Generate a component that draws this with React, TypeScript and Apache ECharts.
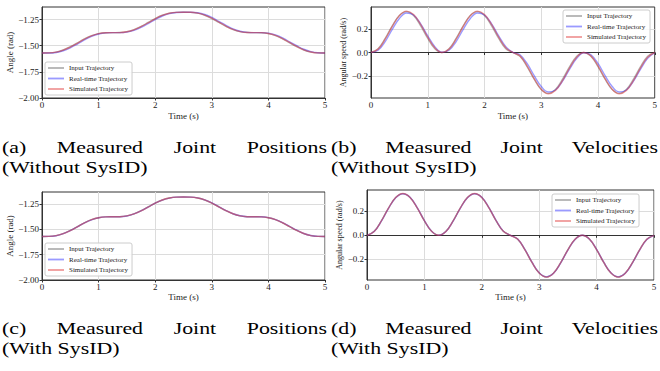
import React, { useEffect, useRef } from "react";
import * as echarts from "echarts";

const FONT = "'Liberation Serif', 'Times New Roman', serif";

const seriesNames = ["Input Trajectory", "Real-time Trajectory", "Simulated Trajectory"];
const xTicks = [0, 1, 2, 3, 4, 5];
const posTicks = [-2, -1.75, -1.5, -1.25];
const velTicks = [-0.2, 0, 0.2];

const timeS = [
  0, 0.125, 0.25, 0.375, 0.5, 0.625, 0.75, 0.875, 1.0, 1.125, 1.25,
  1.375, 1.5, 1.625, 1.75, 1.875, 2.0, 2.125, 2.25, 2.375, 2.5,
  2.625, 2.75, 2.875, 3.0, 3.125, 3.25, 3.375, 3.5, 3.625, 3.75,
  3.875, 4.0, 4.125, 4.25, 4.375, 4.5, 4.625, 4.75, 4.875, 5.0,
];

// Joint positions (rad)
const posInput = [
  -1.570, -1.569, -1.561, -1.541, -1.510, -1.473, -1.435, -1.404, -1.384, -1.376, -1.375,
  -1.374, -1.366, -1.346, -1.315, -1.278, -1.240, -1.209, -1.189, -1.181, -1.180,
  -1.181, -1.189, -1.209, -1.240, -1.278, -1.315, -1.346, -1.366, -1.374, -1.375,
  -1.376, -1.384, -1.404, -1.435, -1.473, -1.510, -1.541, -1.561, -1.569, -1.570,
];
const posRealNoId = [
  -1.570, -1.570, -1.565, -1.548, -1.520, -1.484, -1.445, -1.411, -1.388, -1.377, -1.375,
  -1.375, -1.370, -1.353, -1.325, -1.288, -1.250, -1.216, -1.193, -1.182, -1.180,
  -1.180, -1.185, -1.202, -1.230, -1.268, -1.305, -1.339, -1.362, -1.373, -1.375,
  -1.375, -1.380, -1.397, -1.425, -1.463, -1.500, -1.534, -1.557, -1.568, -1.570,
];
const posSimNoId = [
  -1.570, -1.569, -1.562, -1.543, -1.513, -1.477, -1.438, -1.406, -1.385, -1.376, -1.375,
  -1.375, -1.367, -1.348, -1.318, -1.282, -1.243, -1.211, -1.190, -1.181, -1.180,
  -1.180, -1.188, -1.207, -1.237, -1.274, -1.312, -1.344, -1.365, -1.374, -1.375,
  -1.375, -1.383, -1.402, -1.432, -1.469, -1.507, -1.539, -1.560, -1.569, -1.570,
];
const posRealId = [
  -1.570, -1.569, -1.562, -1.542, -1.512, -1.475, -1.436, -1.405, -1.385, -1.376, -1.375,
  -1.374, -1.367, -1.347, -1.317, -1.280, -1.241, -1.210, -1.190, -1.181, -1.180,
  -1.181, -1.188, -1.208, -1.238, -1.276, -1.313, -1.345, -1.365, -1.374, -1.375,
  -1.375, -1.383, -1.403, -1.433, -1.471, -1.508, -1.540, -1.560, -1.569, -1.570,
];
const posSimId = [
  -1.570, -1.569, -1.561, -1.542, -1.511, -1.474, -1.436, -1.404, -1.384, -1.376, -1.375,
  -1.374, -1.366, -1.347, -1.316, -1.279, -1.241, -1.209, -1.189, -1.181, -1.180,
  -1.181, -1.189, -1.208, -1.239, -1.277, -1.314, -1.345, -1.366, -1.374, -1.375,
  -1.376, -1.384, -1.403, -1.434, -1.472, -1.509, -1.540, -1.561, -1.569, -1.570,
];

// Joint velocities (rad/s)
const velInput = [
  0, 0.033, 0.121, 0.229, 0.317, 0.350, 0.317, 0.229, 0.121, 0.033, 0,
  0.033, 0.121, 0.229, 0.317, 0.350, 0.317, 0.229, 0.121, 0.033, 0,
  -0.033, -0.121, -0.229, -0.317, -0.350, -0.317, -0.229, -0.121, -0.033, 0,
  -0.033, -0.121, -0.229, -0.317, -0.350, -0.317, -0.229, -0.121, -0.033, 0,
];
const velRealNoId = [
  0, 0.019, 0.094, 0.198, 0.291, 0.338, 0.321, 0.246, 0.142, 0.050, 0.002,
  0.019, 0.094, 0.198, 0.291, 0.338, 0.321, 0.246, 0.142, 0.050, 0.002,
  -0.019, -0.094, -0.198, -0.291, -0.338, -0.321, -0.246, -0.142, -0.050, -0.002,
  -0.019, -0.094, -0.198, -0.291, -0.338, -0.321, -0.246, -0.142, -0.050, -0.002,
];
const velSimNoId = [
  0, 0.029, 0.114, 0.224, 0.316, 0.355, 0.326, 0.241, 0.131, 0.040, 0,
  0.029, 0.114, 0.224, 0.316, 0.355, 0.326, 0.241, 0.131, 0.040, 0,
  -0.029, -0.114, -0.224, -0.316, -0.355, -0.326, -0.241, -0.131, -0.040, 0,
  -0.029, -0.114, -0.224, -0.316, -0.355, -0.326, -0.241, -0.131, -0.040, 0,
];
const velRealId = [
  0, 0.031, 0.118, 0.226, 0.315, 0.349, 0.319, 0.232, 0.124, 0.035, 0,
  0.031, 0.118, 0.226, 0.315, 0.349, 0.319, 0.232, 0.124, 0.035, 0,
  -0.031, -0.118, -0.226, -0.315, -0.349, -0.319, -0.232, -0.124, -0.035, 0,
  -0.031, -0.118, -0.226, -0.315, -0.349, -0.319, -0.232, -0.124, -0.035, 0,
];
const velSimId = [
  0, 0.032, 0.120, 0.228, 0.317, 0.351, 0.318, 0.230, 0.122, 0.034, 0,
  0.032, 0.120, 0.228, 0.317, 0.351, 0.318, 0.230, 0.122, 0.034, 0,
  -0.032, -0.120, -0.228, -0.317, -0.351, -0.318, -0.230, -0.122, -0.034, 0,
  -0.032, -0.120, -0.228, -0.317, -0.351, -0.318, -0.230, -0.122, -0.034, 0,
];

const captionLines = [
  { words: ["(a)", "Measured", "Joint", "Positions"], second: "(Without SysID)" },
  { words: ["(b)", "Measured", "Joint", "Velocities"], second: "(Without SysID)" },
  { words: ["(c)", "Measured", "Joint", "Positions"], second: "(With SysID)" },
  { words: ["(d)", "Measured", "Joint", "Velocities"], second: "(With SysID)" },
];

const COLORS = ["rgba(0,0,0,0.3)", "rgba(30,30,255,0.45)", "rgba(225,70,70,0.55)"];

const minusFmt = (d: number) => (v: number) => v.toFixed(d).replace("-", "\u2212");

export default function App() {
  const ref = useRef<HTMLDivElement>(null);

  useEffect(() => {
    if (!ref.current) return;
    const chart = echarts.init(ref.current, null, { renderer: "svg" });

    const grids = [
      { left: 42, top: 7, width: 283, height: 91 },
      { left: 371, top: 7, width: 284, height: 91 },
      { left: 42, top: 192, width: 283, height: 88 },
      { left: 367, top: 190, width: 287, height: 90 },
    ];

    const yRanges = [
      { min: -2.0, max: -1.13, ticks: posTicks, dec: 2, name: "Angle (rad)", nameSize: 9, gap: 26 },
      { min: -0.39, max: 0.39, ticks: velTicks, dec: 1, name: "Angular speed (rad/s)", nameSize: 8, gap: 24 },
      { min: -2.0, max: -1.13, ticks: posTicks, dec: 2, name: "Angle (rad)", nameSize: 9, gap: 26 },
      { min: -0.375, max: 0.38, ticks: velTicks, dec: 1, name: "Angular speed (rad/s)", nameSize: 8, gap: 24 },
    ];

    const panelData = [
      [posInput, posRealNoId, posSimNoId],
      [velInput, velRealNoId, velSimNoId],
      [posInput, posRealId, posSimId],
      [velInput, velRealId, velSimId],
    ];

    const xGaps = [13, 13, 12, 12];

    const xAxis = grids.map((_, i) => ({
      type: "value",
      gridIndex: i,
      min: 0,
      max: 5,
      interval: 1,
      name: "Time (s)",
      nameLocation: "middle",
      nameGap: xGaps[i],
      nameTextStyle: { fontFamily: FONT, fontSize: 9, color: "#222" },
      axisLine: { show: true, lineStyle: { color: "#333", width: 1 } },
      axisTick: { show: true, length: 2.5, lineStyle: { color: "#333" }, customValues: xTicks },
      axisLabel: { fontFamily: FONT, fontSize: 9, color: "#222", margin: 2, customValues: xTicks },
      splitLine: { show: true, lineStyle: { color: "#dcdcdc", width: 1 } },
    }));

    const yAxis = yRanges.map((r, i) => ({
      type: "value",
      gridIndex: i,
      min: r.min,
      max: r.max,
      name: r.name,
      nameLocation: "middle",
      nameGap: r.gap,
      nameTextStyle: { fontFamily: FONT, fontSize: r.nameSize, color: "#222" },
      axisLine: { show: true, lineStyle: { color: "#333", width: 1 } },
      axisTick: { show: true, length: 2.5, lineStyle: { color: "#333" }, customValues: r.ticks },
      axisLabel: {
        fontFamily: FONT,
        fontSize: 9,
        color: "#222",
        margin: 3,
        customValues: r.ticks,
        formatter: minusFmt(r.dec),
      },
      splitLine: { show: true, lineStyle: { color: "#dcdcdc", width: 1 } },
    }));

    const series: any[] = [];
    panelData.forEach((arrs, gi) => {
      arrs.forEach((vals, si) => {
        series.push({
          type: "line",
          name: seriesNames[si],
          xAxisIndex: gi,
          yAxisIndex: gi,
          data: timeS.map((t, k) => [t, vals[k]]),
          showSymbol: false,
          smooth: 0.4,
          color: COLORS[si],
          lineStyle: { width: 1.4, color: COLORS[si] },
          z: 2 + si,
        });
      });
    });

    const legendBase = {
      data: seriesNames,
      orient: "vertical",
      icon: "rect",
      itemWidth: 16,
      itemHeight: 1.8,
      itemGap: 2.5,
      padding: [2, 4, 2, 3],
      backgroundColor: "rgba(255,255,255,0.85)",
      borderColor: "#cccccc",
      borderWidth: 1,
      borderRadius: 2,
      selectedMode: false,
      textStyle: { fontFamily: FONT, fontSize: 7, color: "#222", lineHeight: 8 },
    };
    const legend = [
      { ...legendBase, left: 45, top: 62 },
      { ...legendBase, left: 563, top: 10 },
      { ...legendBase, left: 45, top: 243 },
      { ...legendBase, left: 552, top: 194 },
    ];

    // Captions, justified like the LaTeX subcaptions (source image is stretched horizontally)
    const canvas = document.createElement("canvas");
    const ctx = canvas.getContext("2d")!;
    const capSize = 17.5;
    const stretch = 1.25;
    ctx.font = `${capSize}px 'Liberation Serif'`;
    const capBoxes = [
      { x0: 2, x1: 327, y: 147 },
      { x0: 331, x1: 658, y: 147 },
      { x0: 2, x1: 327, y: 327.5 },
      { x0: 331, x1: 658, y: 327.5 },
    ];
    const textStyle = (t: string) => ({
      text: t,
      fontFamily: FONT,
      fontSize: capSize,
      fill: "#000",
      verticalAlign: "middle",
    });
    const graphic: any[] = [];
    captionLines.forEach((c, i) => {
      const b = capBoxes[i];
      const widths = c.words.map((w) => ctx.measureText(w).width * stretch);
      const total = widths.reduce((a, v) => a + v, 0);
      const gap = (b.x1 - b.x0 - total) / (c.words.length - 1);
      let x = b.x0;
      c.words.forEach((w, k) => {
        graphic.push({ type: "text", x, y: b.y, scaleX: stretch, style: textStyle(w) });
        x += widths[k] + gap;
      });
      graphic.push({ type: "text", x: b.x0, y: b.y + 20, scaleX: stretch, style: textStyle(c.second) });
    });

    chart.setOption({
      animation: false,
      backgroundColor: "#ffffff",
      textStyle: { fontFamily: FONT },
      grid: grids.map((g) => ({ ...g, show: true, borderColor: "#333", borderWidth: 1, backgroundColor: "transparent" })),
      xAxis,
      yAxis,
      legend,
      series,
      graphic,
    });

    return () => chart.dispose();
  }, []);

  return (
    <div
      ref={ref}
      style={{ position: "absolute", left: 0, top: 0, width: 660, height: 371, background: "#fff" }}
    />
  );
}
